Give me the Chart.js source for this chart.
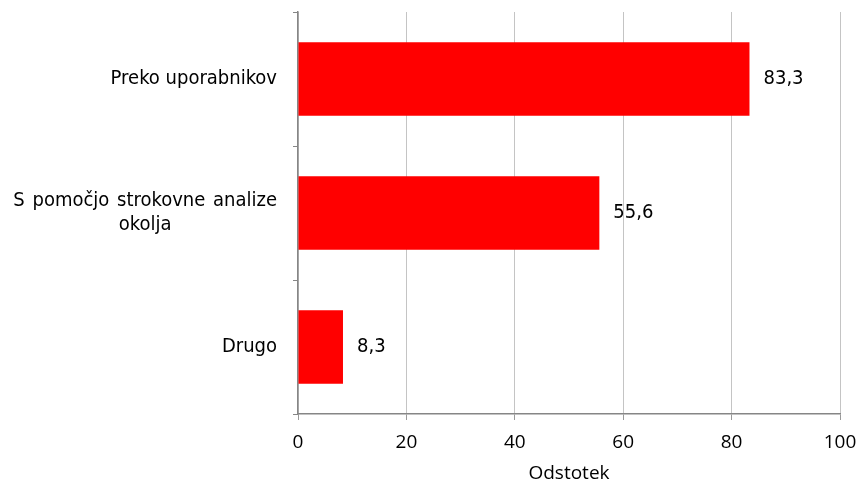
<!DOCTYPE html>
<html>
<head>
<meta charset="utf-8">
<script src="https://cdn.jsdelivr.net/npm/chart.js@4"></script>
<style>
  html, body { margin: 0; padding: 0; background: #ffffff; overflow: hidden; }
  #wrap { width: 858px; height: 479px; position: relative; }
</style>
</head>
<body>
<div id="wrap"><canvas id="c" width="858" height="479"></canvas></div>
<script>
const categories = [["Preko uporabnikov"], ["S pomočjo strokovne analize", "okolja"], ["Drugo"]];
const values = [83.3, 55.6, 8.3];
const valueLabels = ["83,3", "55,6", "8,3"];
const xTicks = [0, 20, 40, 60, 80, 100];
const axisTitle = "Odstotek";

const labelFontFamily = '"DejaVu Sans Condensed", "DejaVu Sans", sans-serif';
const tickFontFamily = '"Open Sans", sans-serif';

const categoryLabelPlugin = {
  id: 'categoryLabels',
  afterDraw(chart) {
    const ctx = chart.ctx;
    const yScale = chart.scales.y;
    const rightEdge = yScale.right - 21;
    const lineH = 24;
    ctx.save();
    ctx.font = '20px ' + labelFontFamily;
    ctx.fillStyle = '#000000';
    ctx.textBaseline = 'middle';
    ctx.textAlign = 'center';
    categories.forEach((lines, i) => {
      ctx.wordSpacing = lines.length > 1 ? '2px' : '0px';
      const yc = yScale.getPixelForValue(i);
      const widths = lines.map(l => ctx.measureText(l).width);
      const w = Math.max(...widths);
      const cx = rightEdge - w / 2;
      const y0 = yc - (lines.length - 1) * lineH / 2;
      lines.forEach((l, k) => ctx.fillText(l, cx, y0 + k * lineH));
    });
    ctx.restore();
  }
};

const valueLabelPlugin = {
  id: 'valueLabels',
  afterDatasetsDraw(chart) {
    const ctx = chart.ctx;
    const meta = chart.getDatasetMeta(0);
    ctx.save();
    ctx.font = '20px ' + labelFontFamily;
    ctx.fillStyle = '#000000';
    ctx.textBaseline = 'middle';
    ctx.textAlign = 'left';
    meta.data.forEach((bar, i) => {
      ctx.fillText(valueLabels[i], bar.x + 14, bar.y);
    });
    ctx.restore();
  }
};

new Chart(document.getElementById('c'), {
  type: 'bar',
  data: {
    labels: categories.map(l => l.join(' ')),
    datasets: [{
      data: values,
      backgroundColor: '#ff0000',
      borderWidth: 0,
      barPercentage: 0.55,
      categoryPercentage: 1.0
    }]
  },
  options: {
    indexAxis: 'y',
    responsive: false,
    animation: false,
    events: [],
    layout: { padding: { top: 12, right: 18, left: 0, bottom: 0 } },
    plugins: { legend: { display: false }, tooltip: { enabled: false }, title: { display: false } },
    scales: {
      x: {
        min: 0,
        max: 100,
        afterBuildTicks(scale) { scale.ticks = xTicks.map(v => ({ value: v })); },
        afterFit(scale) { scale.height = 65; scale.paddingLeft = 0; scale.paddingRight = 0; },
        ticks: {
          color: '#000000',
          font: { family: tickFontFamily, size: 19 },
          padding: 11,
          maxRotation: 0
        },
        grid: { color: '#c4c4c4', lineWidth: 1, tickLength: 6, tickColor: '#9a9a9a', drawTicks: true },
        border: { color: '#868686', width: 1.5 },
        title: {
          display: true,
          text: axisTitle,
          color: '#000000',
          font: { family: tickFontFamily, size: 19 },
          padding: { top: 0, bottom: -6 }
        }
      },
      y: {
        afterFit(scale) { scale.width = 298; },
        ticks: { display: false },
        grid: { drawOnChartArea: false, drawTicks: true, tickLength: 5, tickColor: '#868686', offset: true },
        border: { color: '#868686', width: 1.5 }
      }
    }
  },
  plugins: [categoryLabelPlugin, valueLabelPlugin]
});
</script>
</body>
</html>
